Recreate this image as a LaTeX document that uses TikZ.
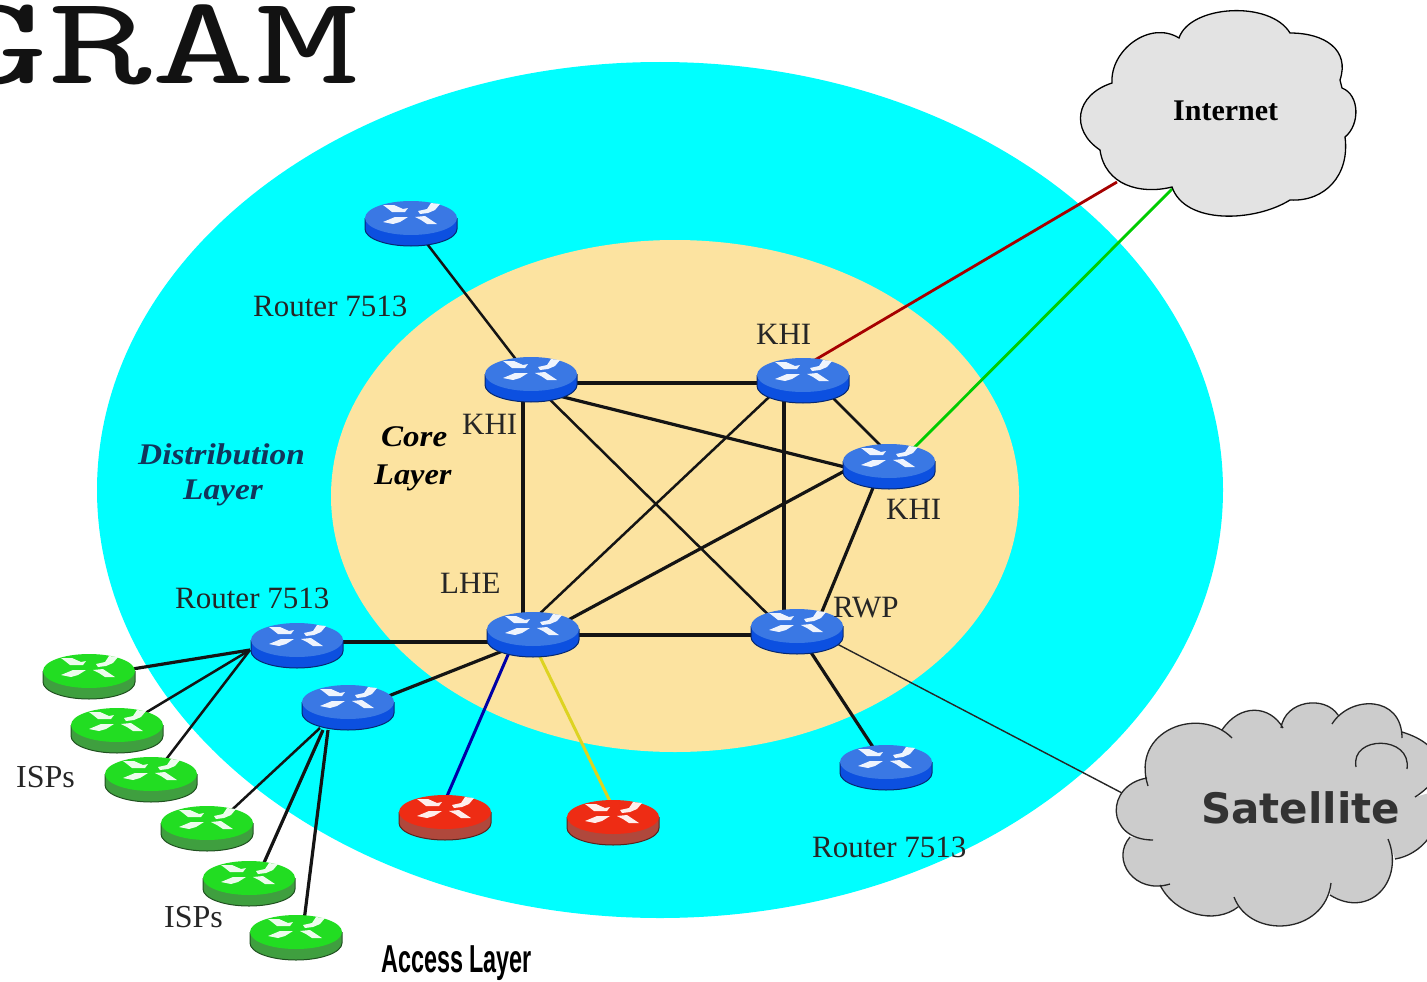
\documentclass[tikz,border=0pt]{standalone}
\usepackage{fontspec}
\setmainfont{Liberation Serif}
\newfontfamily\titlefont{Latin Modern Mono}
\newfontfamily\satfont{DejaVu Sans}
\newfontfamily\accfont{Liberation Sans}
\newcommand{\fsz}[1]{\fontsize{#1}{#1}\selectfont}
\definecolor{cyanring}{HTML}{00FFFF}
\definecolor{coreyellow}{HTML}{FCE3A0}
\definecolor{bluetop}{HTML}{3A78E4}
\definecolor{bluebody}{HTML}{0C50E0}
\definecolor{greentop}{HTML}{22DD22}
\definecolor{greenbody}{HTML}{3F9F3F}
\definecolor{redtop}{HTML}{EE2C14}
\definecolor{redbody}{HTML}{B0483C}
\definecolor{navy}{HTML}{12355B}
\newcommand{\satpath}[1]{(1148,786) .. controls (1130,730) and (1200,705) .. (1232,738) #1
 (1222,730) .. controls (1240,703) and (1270,705) .. (1283,728) #1
 (1281,728) .. controls (1285,700) and (1325,695) .. (1338,715) #1
 (1332,724) .. controls (1350,695) and (1402,695) .. (1402,738) #1
 (1402,732) .. controls (1445,745) and (1450,775) .. (1415,797) #1
 (1440,790) .. controls (1445,830) and (1420,855) .. (1395,859) #1
 (1388,839) .. controls (1405,880) and (1370,920) .. (1330,895) #1
 (1331,883) .. controls (1325,935) and (1250,940) .. (1234,897) #1
 (1238,907) .. controls (1215,925) and (1175,915) .. (1160,885) #1
 (1170,884) .. controls (1135,895) and (1110,860) .. (1130,837) #1
 (1153,840) .. controls (1105,840) and (1105,785) .. (1147,778)}
\tikzset{
 x=1pt,y=-1pt,
 rt/.style={inner sep=0pt,minimum size=1pt},
 lbl/.style={inner sep=0pt,anchor=base west,font=\fsz{31},text=black!85},
 layerlbl/.style={inner sep=0pt,anchor=base west,font=\fsz{30}\bfseries\itshape,transform shape},
 link/.style={line width=3.2pt,black!92},
 midlink/.style={line width=2.5pt,black!92},
 thinlink/.style={line width=1.4pt,black!85},
 cloudline/.style={line width=1.3pt,black!85},
 pics/router/.style n args={2}{code={
  \fill[#2] (-46,-5) rectangle (46,6);
  \fill[#2] (0,6) ellipse [x radius=46,y radius=17];
  \draw[#2!50!black,line width=1pt] (-46,-5) -- (-46,6) .. controls (-46,15.4) and (-25.4,23) .. (0,23) .. controls (25.4,23) and (46,15.4) .. (46,6) -- (46,-5);
  \fill[#1] (0,-5) ellipse [x radius=46,y radius=17];
  \fill[white!92!#1] (-28,-18) -- (-17,-18) -- (-8,-14) -- (-3,-15) -- (-6,-11) -- (-19,-11) -- (-24,-15) -- cycle;
  \fill[white!92!#1] (7,-12) -- (16,-14) -- (20,-20) -- (29,-19) -- (24,-13) -- (17,-10) -- (9,-9) -- cycle;
  \fill[white!92!#1] (-28,-1) -- (-16,-6) -- (-3,-6) -- (-11,-1) -- (-18,1) -- cycle;
  \fill[white!92!#1] (4,-6) -- (14,-7) -- (26,1) -- (16,1) -- (10,-3) -- cycle;
 }}
}
\begin{document}
\begin{tikzpicture}
\clip (0,0) rectangle (1427,982);
\fill[white] (0,0) rectangle (1427,982);
% layers
\fill[cyanring] (660,490) ellipse [x radius=563,y radius=428];
\fill[coreyellow] (675,496) ellipse [x radius=344,y radius=256];
% title
\node[inner sep=0pt,anchor=base west,font=\titlefont\fsz{126},text=black!93,xscale=1.6,transform shape] (title) at (-56,83) {GRAM};
% router anchors
\node[rt] (r1) at (411,223) {};
\node[rt] (kA) at (531,379) {};
\node[rt] (kB) at (803,380) {};
\node[rt] (kC) at (889,466) {};
\node[rt] (lhe) at (533,634) {};
\node[rt] (rwp) at (797,631) {};
\node[rt] (rl) at (297,645) {};
\node[rt] (rm) at (348,707) {};
\node[rt] (rb) at (886,767) {};
\node[rt] (red1) at (445,817) {};
\node[rt] (red2) at (613,822) {};
\node[rt] (g1) at (89,676) {};
\node[rt] (g2) at (117,730) {};
\node[rt] (g3) at (151,779) {};
\node[rt] (g4) at (207,828) {};
\node[rt] (g5) at (249,883) {};
\node[rt] (g6) at (296,937) {};
\coordinate (inetA) at (1117,182);
\coordinate (inetB) at (1172,189);
\coordinate (satA) at (1122,793);
\coordinate (rlin) at (250,650);
\coordinate (rmA) at (320,728);
\coordinate (rmB) at (323,730);
\coordinate (rmC) at (328,730);
% connectors
\draw[midlink] (r1.center) -- (kA.center);
\draw[link] ([yshift=-4pt]kA.center) -- ([yshift=-3pt]kB.center);
\draw[link] ([yshift=-10pt]kA.center) -- ([yshift=-12pt]kC.center);
\draw[link] ([xshift=-8pt]kA.center) -- ([xshift=-10pt]lhe.center);
\draw[midlink] ([yshift=-2pt]kA.center) -- ([yshift=-12pt]rwp.center);
\draw[midlink] ([yshift=12pt]kB.center) -- ([yshift=12pt]kC.center);
\draw[midlink] ([yshift=15pt]kB.center) -- ([yshift=14pt]lhe.center);
\draw[link] ([xshift=-19pt]kB.center) -- ([xshift=-13pt]rwp.center);
\draw[link] ([yshift=19pt]kC.center) -- ([yshift=-5pt]lhe.center);
\draw[link] ([xshift=-7pt]kC.center) -- ([xshift=17pt]rwp.center);
\draw[link] ([yshift=-1pt]lhe.center) -- ([yshift=-4pt]rwp.center);
\draw[link] ([yshift=-8pt]lhe.center) -- ([yshift=3pt]rl.center);
\draw[link] ([yshift=-5pt]lhe.center) -- ([yshift=-5pt]rm.center);
\draw[link] (rwp.center) -- (rb.center);
\draw[line width=3pt,blue!65!black] ([xshift=-16pt]lhe.center) -- ([xshift=-7pt]red1.center);
\draw[line width=3pt,yellow!85!black] ([xshift=-4pt]lhe.center) -- ([xshift=7pt]red2.center);
\draw[line width=2.8pt,red!65!black] ([yshift=13pt]kB.center) -- (inetA);
\draw[line width=2.8pt,green!80!black] ([yshift=-7pt]kC.center) -- (inetB);
\draw[thinlink] ([yshift=8pt]rwp.center) -- (satA);
\draw[link] (g1.center) -- (rlin);
\draw[midlink] (g2.center) -- (rlin);
\draw[midlink] (g3.center) -- (rlin);
\draw[midlink] ([yshift=-5pt]g4.center) -- (rmA);
\draw[link] ([xshift=6pt]g5.center) -- (rmB);
\draw[link] ([xshift=6pt]g6.center) -- (rmC);
% routers
\foreach \n in {r1,kA,kB,kC,lhe,rwp,rl,rm,rb}{\pic at (\n) {router={bluetop}{bluebody}};}
\foreach \n in {red1,red2}{\pic at (\n) {router={redtop}{redbody}};}
\foreach \n in {g1,g2,g3,g4,g5,g6}{\pic at (\n) {router={greentop}{greenbody}};}
% Internet cloud
\draw[fill=black!11,draw=black,line width=1.3pt] (1112,83) .. controls (1110,50) and (1150,20) .. (1179,38)
 .. controls (1190,5) and (1270,0) .. (1290,33)
 .. controls (1325,33) and (1350,50) .. (1340,80) -- (1342,88)
 .. controls (1360,95) and (1360,125) .. (1345,137)
 .. controls (1350,175) and (1325,202) .. (1290,200)
 .. controls (1255,222) and (1185,225) .. (1172,187)
 .. controls (1140,195) and (1105,185) .. (1100,150)
 .. controls (1070,130) and (1075,95) .. (1112,83) -- cycle;
\node[inner sep=0pt,anchor=base west,font=\fsz{30}\bfseries] (inet) at (1173,120) {Internet};
% Satellite cloud
\fill[black!20] \satpath{--} -- cycle;
\draw[cloudline] \satpath{};
\draw[cloudline] (1356,767) .. controls (1350,735) and (1412,735) .. (1407,769);
\node[inner sep=0pt,anchor=base west,font=\satfont\fsz{42}\bfseries,text=black!80] (sat) at (1201,823) {Satellite};
% labels
\node[lbl] (l1) at (253,316) {Router 7513};
\node[lbl] (l2) at (175,608) {Router 7513};
\node[lbl] (l3) at (812,857) {Router 7513};
\node[lbl] (k1) at (756,344) {KHI};
\node[lbl] (k2) at (462,434) {KHI};
\node[lbl] (k3) at (886,519) {KHI};
\node[lbl] (l) at (440,593) {LHE};
\node[lbl] (w) at (833,617) {RWP};
\node[lbl,font=\fsz{32}] (i1) at (16,787) {ISPs};
\node[lbl,font=\fsz{32}] (i2) at (164,927) {ISPs};
\node[layerlbl,text=navy,xscale=1.11] (d1) at (138,464) {Distribution};
\node[layerlbl,text=navy,xscale=1.11] (d2) at (183,499) {Layer};
\node[layerlbl,text=black,xscale=1.1] (c1) at (381,446) {Core};
\node[layerlbl,text=black,xscale=1.08] (c2) at (374,484) {Layer};
\node[inner sep=0pt,anchor=base west,font=\accfont\fsz{39}\bfseries,xscale=.6,transform shape] (acc) at (381,972) {Access Layer};
\end{tikzpicture}
\end{document}
